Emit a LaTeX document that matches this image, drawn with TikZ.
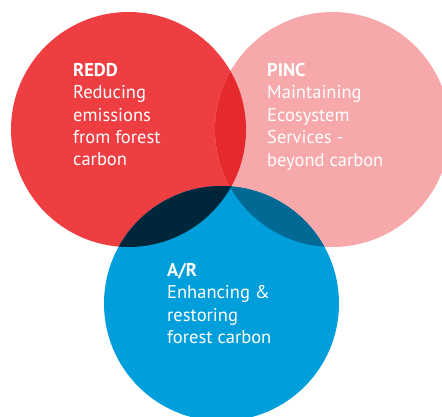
\documentclass[tikz,border=0pt]{standalone}
\usepackage{fontspec}
\setmainfont{PT Sans}
\definecolor{cred}{HTML}{EF3E42}
\definecolor{cpink}{HTML}{F6A8AA}
\definecolor{cblue}{HTML}{009EDB}
\definecolor{credpink}{HTML}{E6292C}
\definecolor{credblue}{HTML}{002639}
\definecolor{cpinkblue}{HTML}{006994}
\definecolor{call}{HTML}{001A26}
\tikzset{
  lbl/.style={anchor=north west, inner sep=0pt, align=left, text=white,
    font=\fontsize{18.5}{22.4}\selectfont},
}
\begin{document}
\begin{tikzpicture}[x=1pt,y=-1pt]
\useasboundingbox (0,0) rectangle (442,417);
\begin{scope}
\clip (0,0) rectangle (442,417);
\def\rc{(128.5,129.5) circle[radius=117.5]}
\def\pc{(332.5,129.5) circle[radius=117.5]}
\def\bc{(221.5,303.5) circle[radius=117.5]}
\fill[cred] \rc;
\fill[cpink] \pc;
\fill[cblue] \bc;
\begin{scope}\clip \rc; \fill[credpink] \pc; \end{scope}
\begin{scope}\clip \rc; \fill[credblue] \bc; \end{scope}
\begin{scope}\clip \pc; \fill[cpinkblue] \bc; \end{scope}
\begin{scope}\clip \rc; \clip \pc; \fill[call] \bc; \end{scope}
\end{scope}
\node[lbl] (redd) at (73,63) {\textbf{REDD}\\Reducing\\emissions\\from forest\\carbon};
\node[lbl] (pinc) at (267,63) {\textbf{PINC}\\Maintaining\\Ecosystem\\Services -\\beyond carbon};
\node[lbl] (ar) at (167,263) {\textbf{A/R}\\Enhancing \&\\restoring\\forest carbon};
\end{tikzpicture}
\end{document}
